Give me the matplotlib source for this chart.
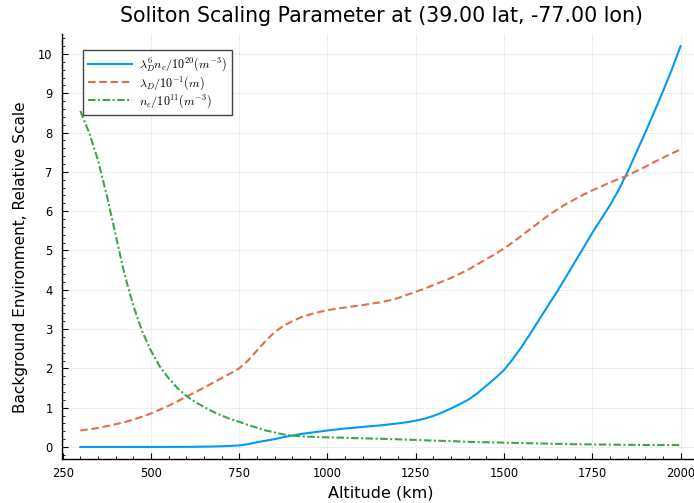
import matplotlib as mpl
mpl.use('Agg')
import matplotlib.pyplot as plt
from matplotlib.ticker import AutoMinorLocator

mpl.rcParams['mathtext.fontset'] = 'cm'
mpl.rcParams['font.family'] = 'DejaVu Sans'

# altitude grid (km)
altitude = [300, 325, 350, 375, 400, 425, 450, 475, 500, 525, 550, 575, 600,
            625, 650, 675, 700, 725, 750, 775, 800, 825, 850, 875, 900, 925,
            950, 975, 1000, 1025, 1050, 1075, 1100, 1125, 1150, 1175, 1200,
            1225, 1250, 1275, 1300, 1325, 1350, 1375, 1400, 1425, 1450, 1475,
            1500, 1525, 1550, 1575, 1600, 1625, 1650, 1675, 1700, 1725, 1750,
            1775, 1800, 1825, 1850, 1875, 1900, 1925, 1950, 1975, 2000]

# lambda_D^6 n_e / 1e20
scaling = [0.0, 0.0, 0.0, 0.0, 0.0, 0.0, 0.0, 0.001, 0.001, 0.001, 0.002,
           0.002, 0.003, 0.005, 0.008, 0.012, 0.018, 0.027, 0.04, 0.07, 0.12,
           0.16, 0.2, 0.25, 0.29, 0.33, 0.36, 0.39, 0.42, 0.445, 0.47, 0.49,
           0.51, 0.53, 0.55, 0.575, 0.6, 0.63, 0.67, 0.72, 0.79, 0.88, 0.98,
           1.09, 1.21, 1.37, 1.56, 1.75, 1.96, 2.24, 2.55, 2.89, 3.25, 3.6,
           3.95, 4.32, 4.7, 5.07, 5.45, 5.8, 6.15, 6.55, 7.0, 7.5, 8.0, 8.52,
           9.05, 9.6, 10.2]

# lambda_D / 1e-1
debye = [0.42, 0.45, 0.48, 0.53, 0.58, 0.63, 0.70, 0.77, 0.85, 0.95, 1.05,
         1.16, 1.28, 1.39, 1.51, 1.63, 1.75, 1.87, 2.0, 2.2, 2.45, 2.7, 2.92,
         3.08, 3.2, 3.3, 3.37, 3.43, 3.48, 3.52, 3.55, 3.58, 3.61, 3.65, 3.68,
         3.73, 3.79, 3.87, 3.95, 4.03, 4.12, 4.21, 4.3, 4.41, 4.52, 4.65,
         4.78, 4.91, 5.05, 5.21, 5.38, 5.55, 5.72, 5.89, 6.04, 6.18, 6.3,
         6.42, 6.53, 6.63, 6.73, 6.82, 6.91, 7.02, 7.13, 7.25, 7.36, 7.47,
         7.57]

# n_e / 1e11
density = [8.55, 8.0, 7.3, 6.4, 5.4, 4.4, 3.6, 2.95, 2.45, 2.05, 1.75, 1.5,
           1.3, 1.15, 1.02, 0.9, 0.8, 0.71, 0.64, 0.56, 0.49, 0.42, 0.37,
           0.32, 0.29, 0.27, 0.26, 0.25, 0.245, 0.24, 0.235, 0.225, 0.22,
           0.215, 0.21, 0.2, 0.195, 0.185, 0.18, 0.17, 0.16, 0.155, 0.15,
           0.14, 0.13, 0.125, 0.12, 0.115, 0.11, 0.105, 0.1, 0.095, 0.09,
           0.085, 0.08, 0.075, 0.07, 0.068, 0.065, 0.062, 0.06, 0.057, 0.055,
           0.052, 0.05, 0.05, 0.05, 0.05, 0.05]

x_ticks = [250, 500, 750, 1000, 1250, 1500, 1750, 2000]
y_ticks = [0, 1, 2, 3, 4, 5, 6, 7, 8, 9, 10]

fig = plt.figure(figsize=(6.94, 5.03), dpi=100)
ax = fig.add_axes([62.3 / 694, 44 / 503, 636.3 / 694, 424.9 / 503])

ax.plot(altitude, scaling, color='#009AFA', lw=1.5,
        label=r'$\lambda_D^6 n_e/10^{20}(m^{-3})$')
ax.plot(altitude, debye, color='#E26F46', lw=1.5, ls=(0, (3.6, 1.8)),
        label=r'$\lambda_D/10^{-1}(m)$')
ax.plot(altitude, density, color='#3DA44D', lw=1.5, ls=(0, (3.6, 1.2, 1, 1.2)),
        label=r'$n_e/10^{11}(m^{-3})$')

ax.set_xlim(249, 2051)
ax.set_ylim(-0.306, 10.506)
ax.set_xticks(x_ticks)
ax.set_yticks(y_ticks)
ax.xaxis.set_minor_locator(AutoMinorLocator(5))
ax.yaxis.set_minor_locator(AutoMinorLocator(5))
ax.tick_params(which='major', direction='in', length=4, width=0.8,
               labelsize=8.3, colors='black')
ax.tick_params(which='minor', direction='in', length=2, width=0.6)
ax.tick_params(axis='x', pad=6)
ax.tick_params(axis='y', pad=7)
ax.grid(True, which='major', color='black', alpha=0.08, lw=0.6)

for side in ['top', 'right']:
    ax.spines[side].set_visible(False)
for side in ['left', 'bottom']:
    ax.spines[side].set_linewidth(1.0)

ax.set_xlabel('Altitude (km)', fontsize=11.5, labelpad=4)
ax.set_ylabel('Background Environment, Relative Scale', fontsize=11)
ax.yaxis.set_label_coords(-0.054, 0.475)
fig.text(381 / 694, 0.968, 'Soliton Scaling Parameter at (39.00 lat, -77.00 lon)',
         ha='center', va='center', fontsize=14.8)

leg = ax.legend(loc='upper left', bbox_to_anchor=(0.0325, 0.9626),
                borderaxespad=0, fontsize=8.7, fancybox=False, framealpha=1,
                edgecolor='#444444', handlelength=3.6, handletextpad=0.6,
                borderpad=0.45, labelspacing=0.05)
leg.get_frame().set_linewidth(1.0)

plt.savefig('out.png', dpi=100)
